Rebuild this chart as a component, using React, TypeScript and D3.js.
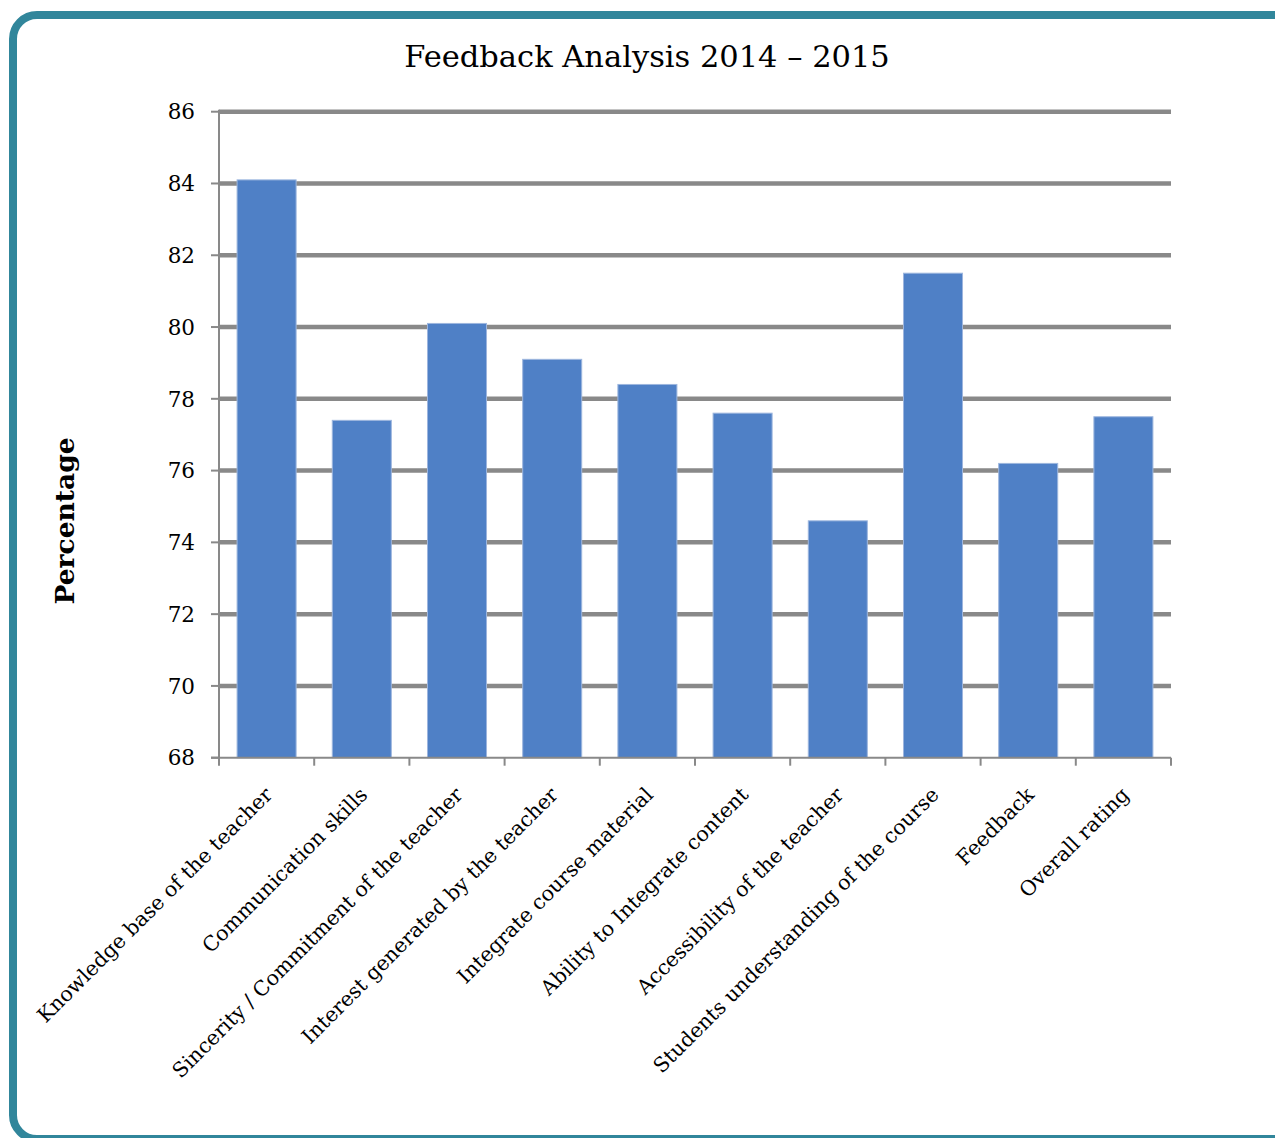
import React from "react";
import * as d3 from "d3";

const categories = [
  "Knowledge base of the teacher",
  "Communication skills",
  "Sincerity / Commitment of the teacher",
  "Interest generated by the teacher",
  "Integrate course material",
  "Ability to Integrate content",
  "Accessibility of the teacher",
  "Students understanding of the course",
  "Feedback",
  "Overall rating",
];
const values = [84.1, 77.4, 80.1, 79.1, 78.4, 77.6, 74.6, 81.5, 76.2, 77.5];
const yTicks = [68, 70, 72, 74, 76, 78, 80, 82, 84, 86];
const title = "Feedback Analysis 2014 – 2015";
const yTitle = "Percentage";

const W = 1275;
const H = 1138;
const left = 219;
const right = 1171;
const top = 111.7;
const bottom = 757.7;
const FONT = "'DejaVu Serif', 'Liberation Serif', serif";

export default function App() {
  const x = d3.scaleBand<string>().domain(categories).range([left, right]).paddingInner(0.38).paddingOuter(0.19);
  const y = d3.scaleLinear().domain([68, 86]).range([bottom, top]);
  const step = x.step();
  return (
    <svg width={W} height={H} style={{ position: "absolute", left: 0, top: 0 }}>
      <rect x={0} y={0} width={W} height={H} fill="#fff" />
      <rect x={13} y={15} width={1290} height={1124} rx={24} ry={24} fill="none" stroke="#31869B" strokeWidth={8} />
      <text x={647} y={67} textAnchor="middle" fontFamily={FONT} fontSize={30.5} fill="#000">{title}</text>
      {yTicks.map((t) => (
        <g key={t}>
          {t !== 68 && (
            <line x1={left} x2={right} y1={y(t)} y2={y(t)} stroke="#898989" strokeWidth={4.5} />
          )}
          <line x1={211} x2={left} y1={y(t)} y2={y(t)} stroke="#898989" strokeWidth={2} />
          <text x={195} y={y(t)} dy="0.36em" textAnchor="end" fontFamily={FONT} fontSize={21.5} fill="#000">{t}</text>
        </g>
      ))}
      {categories.map((c, i) => (
        <rect key={c} x={x(c)} y={y(values[i])} width={x.bandwidth()} height={bottom - y(values[i])} fill="#4F80C6" stroke="#9DB6DE" strokeWidth={1} />
      ))}
      <line x1={left} x2={left} y1={top - 2} y2={bottom} stroke="#898989" strokeWidth={2} />
      <line x1={left - 8} x2={right} y1={bottom} y2={bottom} stroke="#898989" strokeWidth={2} />
      {d3.range(categories.length + 1).map((i) => (
        <line key={i} x1={left + i * step} x2={left + i * step} y1={bottom} y2={bottom + 8} stroke="#898989" strokeWidth={2} />
      ))}
      {categories.map((c) => {
        const cx = (x(c) as number) + x.bandwidth() / 2 + 7;
        const cy = 796;
        return (
          <text key={c} x={0} y={0} transform={`translate(${cx},${cy}) rotate(-45)`} textAnchor="end" fontFamily={FONT} fontSize={20.5} fill="#000">{c}</text>
        );
      })}
      <text transform={`translate(74,521) rotate(-90)`} textAnchor="middle" fontFamily={FONT} fontWeight="bold" fontSize={26.5} fill="#000">{yTitle}</text>
    </svg>
  );
}
